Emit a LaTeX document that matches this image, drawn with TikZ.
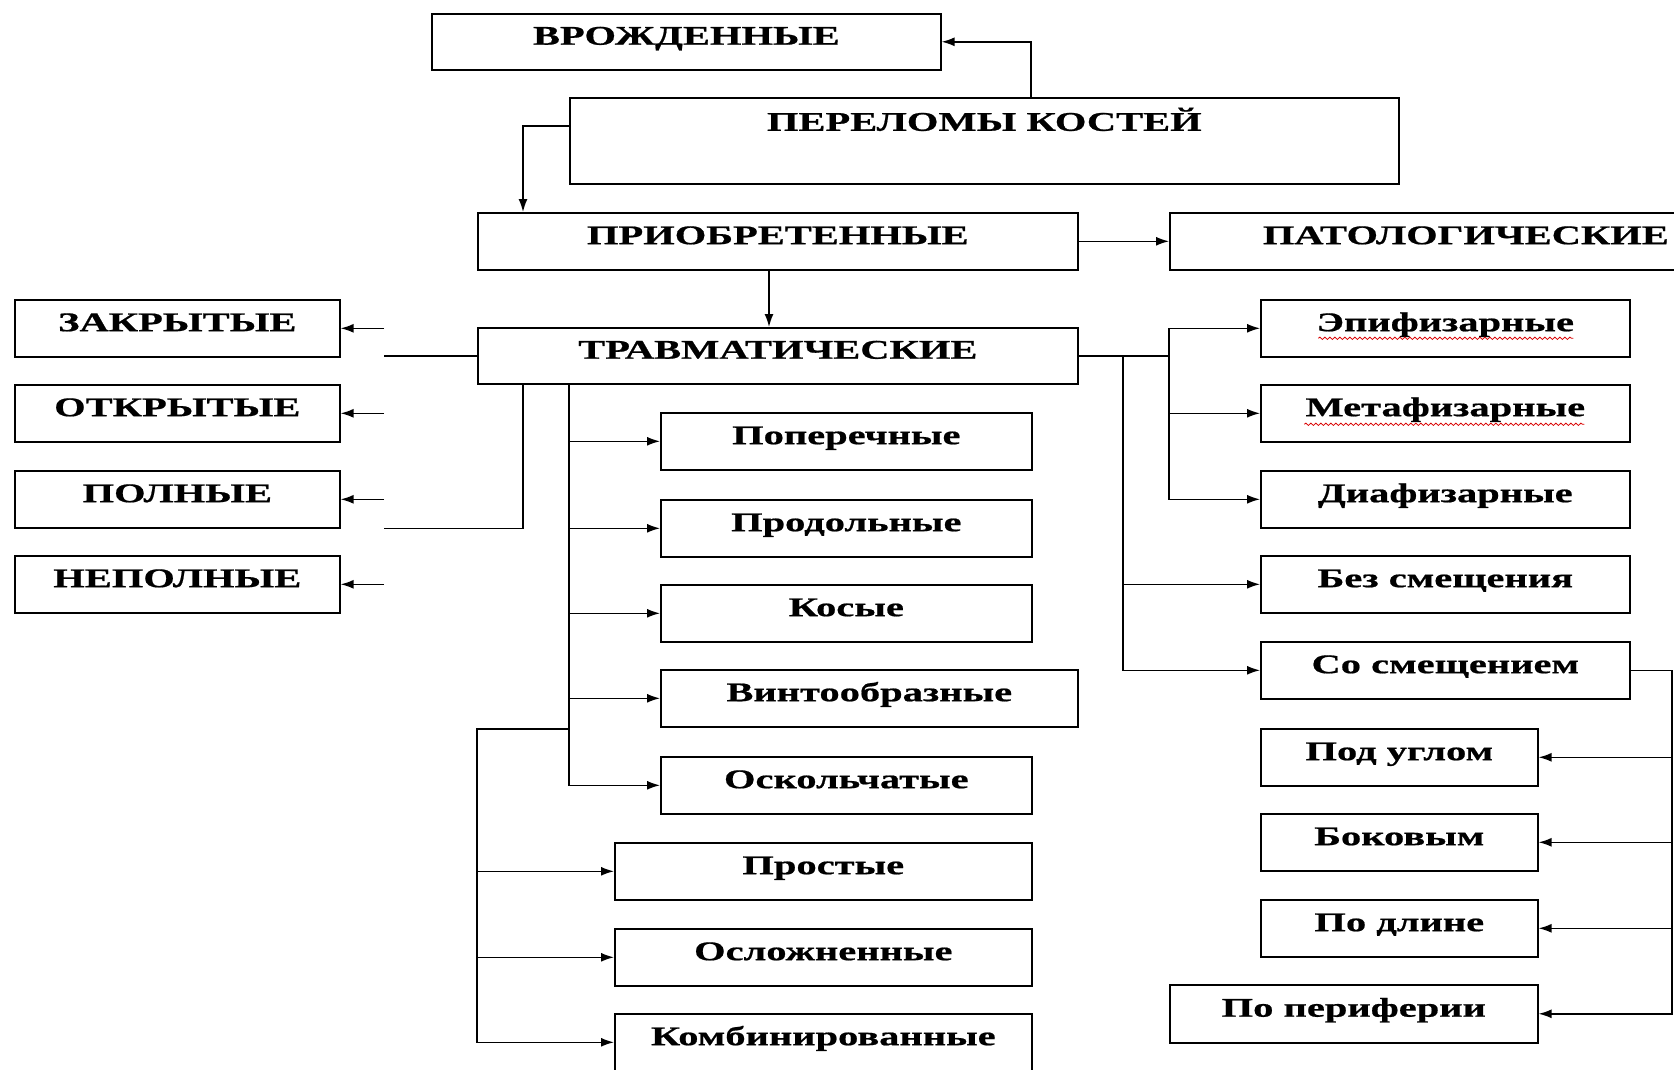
\documentclass[tikz,border=0pt]{standalone}
\usepackage{fontspec}
\setmainfont[FakeStretch=1.5, BoldFeatures={FakeBold=0.7}]{Liberation Serif}
\usetikzlibrary{positioning,arrows.meta,calc,decorations.pathmorphing}

\tikzset{
  box/.style={draw, line width=1.6pt, anchor=north west, inner sep=0pt,
    text height=0.92em, text depth=0.34em, font=\fontsize{27}{30}\selectfont\bfseries},
  arr/.style={line width=1.5pt, -{Latex[length=13pt,width=9pt]}},
  wire/.style={line width=1.5pt},
  squiggle/.style={red!85!black, line width=0.8pt, decorate,
    decoration={snake, amplitude=1.2pt, segment length=5pt}}
}

\begin{document}
\begin{tikzpicture}[x=1pt,y=-1pt]
  \useasboundingbox (0,0) rectangle (1674,1070);
  % top of the tree
  \node[box, minimum width=509, minimum height=56] (vrozh) at (431,13) {ВРОЖДЕННЫЕ};
  \node[box, minimum width=829, minimum height=86, text height=33pt, text depth=53pt] (perel) at (569,97) {ПЕРЕЛОМЫ КОСТЕЙ};
  \node[box, minimum width=600, minimum height=57] (priob) at (477,212) {ПРИОБРЕТЕННЫЕ};
  \node[box, minimum width=592, minimum height=57] (patol) at (1169,212) {ПАТОЛОГИЧЕСКИЕ};
  \node[box, minimum width=600, minimum height=56] (travm) at (477,327) {ТРАВМАТИЧЕСКИЕ};
  % left column
  \foreach \n/\y/\t in {zakr/299/ЗАКРЫТЫЕ, otkr/384/ОТКРЫТЫЕ, poln/470/ПОЛНЫЕ, nepoln/555/НЕПОЛНЫЕ}
    \node[box, minimum width=325, minimum height=57] (\n) at (14,\y) {\t};
  % middle column
  \foreach \n/\y/\t in {poper/412/Поперечные, prodol/499/Продольные, kos/584/Косые, oskol/756/Оскольчатые}
    \node[box, minimum width=371, minimum height=57] (\n) at (660,\y) {\t};
  \node[box, minimum width=417, minimum height=57] (vint) at (660,669) {Винтообразные};
  \foreach \n/\y/\t in {prost/842/Простые, oslozh/928/Осложненные, komb/1013/Комбинированные}
    \node[box, minimum width=417, minimum height=57] (\n) at (614,\y) {\t};
  % right column
  \foreach \n/\y/\t in {epif/299/Эпифизарные, metaf/384/Метафизарные, diaf/470/Диафизарные, bez/555/Без смещения, so/641/Со смещением}
    \node[box, minimum width=369, minimum height=57] (\n) at (1260,\y) {\t};
  \foreach \n/\y/\t in {ugol/728/Под углом, bok/813/Боковым, dlina/899/По длине}
    \node[box, minimum width=277, minimum height=57] (\n) at (1260,\y) {\t};
  \node[box, minimum width=368, minimum height=58] (perif) at (1169,984) {По периферии};
  % spell-check marks
  \draw[squiggle] ($(epif.center)+(-127,10)$) -- ($(epif.center)+(128,10)$);
  \draw[squiggle] ($(metaf.center)+(-141,11)$) -- ($(metaf.center)+(139,11)$);

  % connectors at the top
  \draw[arr] (perel.north -| 1031,0) |- (vrozh.east);
  \draw[arr] (perel.west |- 0,126) -| (priob.north -| 523,0);
  \draw[arr] (priob.east) -- (patol.west);
  \draw[arr] (priob.south -| 769,0) -- (travm.north -| 769,0);
  % left side, loose ends
  \draw[wire] (travm.west) -- (travm.west -| 384,0);
  \draw[wire] (travm.south -| 523,0) |- (poln.south -| 384,0);
  \foreach \n in {zakr,otkr,poln,nepoln}
    \draw[arr] (\n.east -| 384,0) -- (\n.east);
  % middle
  \draw[arr] (travm.south -| 569,0) |- (oskol.west);
  \foreach \n in {poper,prodol,kos,vint}
    \draw[arr] (\n.west -| 569,0) -- (\n.west);
  \coordinate (midjoin) at (569,729);
  \draw[arr] (midjoin) -| (komb.west -| 477,0) -- (komb.west);
  \foreach \n in {prost,oslozh}
    \draw[arr] (\n.west -| 477,0) -- (\n.west);
  % right
  \draw[arr] (travm.east) -| (epif.west -| 1169,0) -- (epif.west);
  \draw[arr] (travm.east -| 1169,0) |- (diaf.west);
  \draw[arr] (metaf.west -| 1169,0) -- (metaf.west);
  \draw[arr] (travm.east -| 1123,0) |- (so.west);
  \draw[arr] (bez.west -| 1123,0) -- (bez.west);
  \draw[arr] (so.east) -| (perif.east -| 1672,0) -- (perif.east);
  \foreach \n in {ugol,bok,dlina}
    \draw[arr] (\n.east -| 1672,0) -- (\n.east);
\end{tikzpicture}
\end{document}
